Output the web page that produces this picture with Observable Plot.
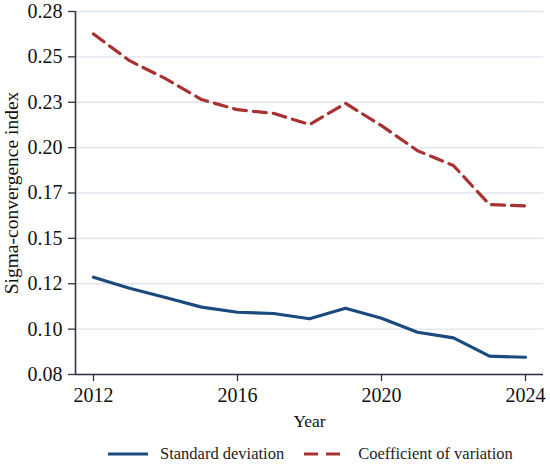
<!DOCTYPE html>
<html>
<head>
<meta charset="utf-8">
<script src="https://cdn.jsdelivr.net/npm/d3@7"></script>
<script src="https://cdn.jsdelivr.net/npm/@observablehq/plot@0.6"></script>
<style>
  html, body { margin: 0; padding: 0; background: #fff; }
  #chart { width: 550px; }
  #chart svg, #chart svg text { font-family: 'Liberation Serif', 'Times New Roman', Times, Tinos, 'DejaVu Serif', serif !important; }
  .legend { display: flex; align-items: center; height: 32px; padding-top: 3px; font-family: 'Liberation Serif', 'Times New Roman', Times, Tinos, 'DejaVu Serif', serif; font-size: 16.5px; color: #222; }
  .legend .item { display: flex; align-items: center; }
  .legend svg { display: block; }
</style>
</head>
<body>
<div id="chart"></div>
<script>
const years = [2012, 2013, 2014, 2015, 2016, 2017, 2018, 2019, 2020, 2021, 2022, 2023, 2024];
const stdDev = [0.1286, 0.1225, 0.1174, 0.1121, 0.1093, 0.1086, 0.1057, 0.1115, 0.1060, 0.0983, 0.0952, 0.0851, 0.0845];
const coefVar = [0.2626, 0.2479, 0.2380, 0.2265, 0.2209, 0.2189, 0.2127, 0.2244, 0.2121, 0.1983, 0.1901, 0.1686, 0.1679];
const seriesNames = ["Standard deviation", "Coefficient of variation"];
const seriesColors = ["#1b4a7e", "#a83232"];
const xTicks = [2012, 2016, 2020, 2024];
const yTicks = [0.075, 0.100, 0.125, 0.150, 0.175, 0.200, 0.225, 0.250, 0.275];
const yTickLabels = ["0.08", "0.10", "0.12", "0.15", "0.17", "0.20", "0.23", "0.25", "0.28"];
const xTitle = "Year";
const yTitle = "Sigma-convergence index";

const sdData = years.map((y, i) => ({year: y, value: stdDev[i]}));
const cvData = years.map((y, i) => ({year: y, value: coefVar[i]}));

const axisColor = "#2b3440";
const font = "'Liberation Serif', 'Times New Roman', Times, Tinos, 'DejaVu Serif', serif";

const chart = Plot.plot({
  width: 550,
  height: 435,
  marginTop: 11,
  marginLeft: 75,
  marginRight: 7,
  marginBottom: 61,
  style: {fontFamily: font, fontSize: "20px", color: "#111", background: "#fff"},
  x: {domain: [2011.5, 2024.5], ticks: xTicks, tickFormat: d3.format("d"), label: null},
  y: {domain: [0.075, 0.275], ticks: yTicks, label: null},
  marks: [
    Plot.gridY(yTicks, {stroke: "#dfe4ec", strokeOpacity: 1, strokeWidth: 1.3}),
    Plot.axisY({ticks: yTicks, tickFormat: (d, i) => yTickLabels[i], tickSize: 7, tickPadding: 6, stroke: axisColor, strokeWidth: 1.3, label: null, fontSize: 20, fill: "#111"}),
    Plot.axisX({ticks: xTicks, tickFormat: d3.format("d"), tickSize: 7, tickPadding: 6.5, stroke: axisColor, strokeWidth: 1.3, label: null, fontSize: 20, fill: "#111"}),
    Plot.ruleX([2011.5], {stroke: axisColor, strokeWidth: 1.6}),
    Plot.ruleY([0.075], {stroke: axisColor, strokeWidth: 1.6}),
    Plot.line(sdData, {x: "year", y: "value", stroke: seriesColors[0], strokeWidth: 3.2}),
    Plot.line(cvData, {x: "year", y: "value", stroke: seriesColors[1], strokeWidth: 3.2, strokeDasharray: "13,7"}),
    Plot.text([yTitle], {frameAnchor: "left", textAnchor: "middle", rotate: -90, dx: -58, lineAnchor: "bottom", fontSize: 19.5, fill: "#111"}),
    Plot.text([xTitle], {frameAnchor: "bottom", textAnchor: "middle", dy: 52.7, lineAnchor: "bottom", fontSize: 17.5, fill: "#111"})
  ]
});
document.getElementById("chart").appendChild(chart);

// legend below
const legend = document.createElement("div");
legend.className = "legend";
legend.style.paddingLeft = "108px";
seriesNames.forEach((name, i) => {
  const item = document.createElement("div");
  item.className = "item";
  item.style.marginRight = i === 0 ? "20px" : "0";
  const sw = d3.create("svg").attr("width", 40).attr("height", 10);
  sw.append("line").attr("x1", 0).attr("x2", i === 0 ? 40 : 36).attr("y1", 5).attr("y2", 5)
    .attr("stroke", seriesColors[i]).attr("stroke-width", 3.2)
    .attr("stroke-dasharray", i === 0 ? null : "14,8");
  item.appendChild(sw.node());
  const label = document.createElement("span");
  label.textContent = name;
  label.style.marginLeft = i === 0 ? "12px" : "14px";
  item.appendChild(label);
  legend.appendChild(item);
});
document.body.appendChild(legend);
</script>
</body>
</html>
